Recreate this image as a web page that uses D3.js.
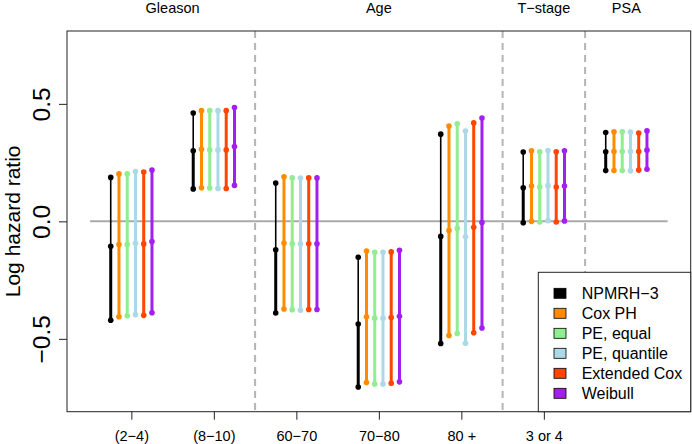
<!DOCTYPE html>
<html>
<head>
<meta charset="utf-8">
<script src="https://cdn.jsdelivr.net/npm/d3@7"></script>
<style>
  body { margin: 0; background: white; }
  text { font-family: "Liberation Sans", Arial, sans-serif; }
</style>
</head>
<body>
<div id="chart"></div>
<script>
// Tick labels under the axis and the group headers above the plot
const tickLabels = ["(2\u22124)", "(8\u221210)", "60\u221270", "70\u221280", "80 +", "3 or 4"];
const groupHeaders = ["Gleason", "Age", "T\u2212stage", "PSA"];
const headerPos = [1.5, 4, 6, 7];
const separators = [2.5, 5.5, 6.5];

// Series names and colours (legend order)
const methods = ["NPMRH\u22123", "Cox PH", "PE, equal", "PE, quantile", "Extended Cox", "Weibull"];
const colors = ["black", "#FF8C00", "#90EE90", "#ADD8E6", "#FF4500", "#A020F0"];

// Estimates and interval bounds per method, one value per covariate level (7 levels)
const npmrh3 = {
    upper: [0.187, 0.461, 0.163, -0.153, 0.371, 0.295, 0.378],
    est:   [-0.106, 0.300, -0.121, -0.437, -0.064, 0.143, 0.296],
    lower: [-0.421, 0.138, -0.390, -0.705, -0.520, -0.006, 0.216]
};
const coxPH = {
    upper: [0.202, 0.471, 0.190, -0.126, 0.406, 0.300, 0.381],
    est:   [-0.099, 0.307, -0.092, -0.406, -0.039, 0.150, 0.297],
    lower: [-0.406, 0.143, -0.373, -0.686, -0.486, 0.000, 0.216]
};
const peEqual = {
    upper: [0.202, 0.471, 0.185, -0.132, 0.415, 0.296, 0.381],
    est:   [-0.098, 0.304, -0.095, -0.412, -0.030, 0.146, 0.297],
    lower: [-0.402, 0.142, -0.376, -0.692, -0.477, -0.003, 0.216]
};
const peQuantile = {
    upper: [0.212, 0.471, 0.184, -0.132, 0.384, 0.301, 0.380],
    est:   [-0.093, 0.304, -0.096, -0.412, -0.066, 0.152, 0.297],
    lower: [-0.397, 0.140, -0.378, -0.692, -0.519, 0.003, 0.215]
};
const extCox = {
    upper: [0.210, 0.471, 0.185, -0.130, 0.419, 0.296, 0.376],
    est:   [-0.096, 0.304, -0.095, -0.409, -0.025, 0.146, 0.297],
    lower: [-0.400, 0.140, -0.375, -0.689, -0.474, -0.003, 0.218]
};
const weibull = {
    upper: [0.218, 0.484, 0.185, -0.123, 0.440, 0.300, 0.385],
    est:   [-0.086, 0.318, -0.095, -0.404, -0.005, 0.150, 0.303],
    lower: [-0.389, 0.153, -0.375, -0.683, -0.454, 0.002, 0.222]
};
const series = [npmrh3, coxPH, peEqual, peQuantile, extCox, weibull];
const offsets = [-0.25, -0.15, -0.05, 0.05, 0.15, 0.25];

// Set dimensions
const margin = { top: 31, right: 1.3, bottom: 32.3, left: 67 },
      width = 692 - margin.left - margin.right,
      height = 444 - margin.top - margin.bottom;

const svg = d3.select("#chart")
    .append("svg")
    .attr("width", 692)
    .attr("height", 444)
    .style("background-color", "white")
    .append("g")
    .attr("transform", `translate(${margin.left},${margin.top})`);

// Scales
const x = d3.scaleLinear().domain([0.22, 7.78]).range([0, width]);
const y = d3.scaleLinear().domain([-0.81, 0.81]).range([height, 0]);

// Separators between covariates
svg.selectAll(".sep")
    .data(separators)
    .join("line")
    .attr("x1", d => x(d)).attr("x2", d => x(d))
    .attr("y1", 0).attr("y2", height)
    .attr("stroke", "#b4b4b4")
    .attr("stroke-width", 2)
    .attr("stroke-dasharray", "7,5");

// Zero reference
svg.append("line")
    .attr("x1", x(0.5)).attr("x2", x(7.5))
    .attr("y1", y(0)).attr("y2", y(0))
    .attr("stroke", "#aaaaaa")
    .attr("stroke-width", 2);

// Intervals
series.forEach((s, m) => {
    const g = svg.append("g");
    const idx = d3.range(s.est.length);
    const px = i => x(i + 1 + offsets[m]);
    // upper part (black one is drawn thinner above the estimate)
    g.selectAll(".up").data(idx).join("line")
        .attr("x1", px).attr("x2", px)
        .attr("y1", i => y(s.upper[i])).attr("y2", i => y(s.est[i]))
        .attr("stroke", colors[m])
        .attr("stroke-width", m === 0 ? 1.6 : 3);
    g.selectAll(".lo").data(idx).join("line")
        .attr("x1", px).attr("x2", px)
        .attr("y1", i => y(s.est[i])).attr("y2", i => y(s.lower[i]))
        .attr("stroke", colors[m])
        .attr("stroke-width", 3);
    ["upper", "est", "lower"].forEach(k => {
        g.selectAll(".pt-" + k).data(idx).join("circle")
            .attr("cx", px)
            .attr("cy", i => y(s[k][i]))
            .attr("r", 2.8)
            .attr("fill", colors[m]);
    });
});

// Box
svg.append("rect")
    .attr("width", width).attr("height", height)
    .attr("fill", "none")
    .attr("stroke", "#222")
    .attr("stroke-width", 1);

// X axis
const xAxis = svg.append("g")
    .attr("transform", `translate(0,${height})`)
    .call(d3.axisBottom(x).tickValues(d3.range(1, tickLabels.length + 1))
        .tickFormat((d, i) => tickLabels[i]).tickSize(8).tickSizeOuter(0));
xAxis.select(".domain").remove();
xAxis.selectAll("line").attr("stroke", "#222");
xAxis.selectAll("text")
    .attr("y", 0).attr("dy", null)
    .attr("transform", "translate(0,29.5)")
    .style("font-size", "14.5px")
    .style("font-family", "Liberation Sans, Arial, sans-serif")
    .attr("fill", "black");

// Y axis
const yAxis = svg.append("g")
    .call(d3.axisLeft(y).tickValues([-0.5, 0, 0.5])
        .tickFormat(d3.format(".1f")).tickSize(8).tickSizeOuter(0));
yAxis.select(".domain").remove();
yAxis.selectAll("line").attr("stroke", "#222");
yAxis.selectAll("text")
    .attr("x", null).attr("dy", null)
    .attr("text-anchor", "middle")
    .attr("transform", "translate(-17,0) rotate(-90)")
    .style("font-size", "24.5px")
    .style("font-family", "Liberation Sans, Arial, sans-serif")
    .attr("fill", "black")
    .text(d => d3.format(".1f")(d).replace("-", "\u2212"));

// Y axis label
svg.append("text")
    .attr("text-anchor", "middle")
    .attr("transform", `translate(${19.5 - margin.left},${y(0)}) rotate(-90)`)
    .style("font-size", "21px")
    .text("Log hazard ratio");

// Group headers
svg.selectAll(".hdr")
    .data(groupHeaders)
    .join("text")
    .attr("text-anchor", "middle")
    .attr("x", (d, i) => x(headerPos[i]))
    .attr("y", 13 - margin.top)
    .style("font-size", "14.5px")
    .text(d => d);

// Legend
const lx = 538.3 - margin.left, ly = 272.3 - margin.top;
const legend = svg.append("g").attr("transform", `translate(${lx},${ly})`);
legend.append("rect")
    .attr("width", width - lx).attr("height", height - ly)
    .attr("fill", "white")
    .attr("stroke", "#222")
    .attr("stroke-width", 1);
methods.forEach((name, i) => {
    legend.append("rect")
        .attr("x", 15.7).attr("y", 16 + i * 20)
        .attr("width", 12).attr("height", 10)
        .attr("fill", colors[i])
        .attr("stroke", "black")
        .attr("stroke-width", 0.8);
    legend.append("text")
        .attr("x", 43.4).attr("y", 26.7 + i * 20)
        .style("font-size", "16px")
        .text(name);
});
</script>
</body>
</html>
